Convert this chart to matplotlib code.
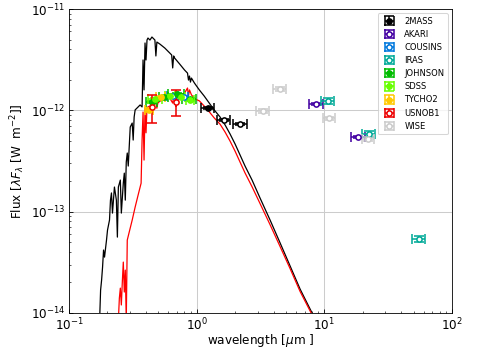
import numpy as np
import matplotlib
matplotlib.use("Agg")
import matplotlib.pyplot as plt

# model spectrum (black), wavelength [um] and lambda*F_lambda [W m-2]
model_wave = [0.1737, 0.1768, 0.1800, 0.1832, 0.1865, 0.1898, 0.1967, 0.2003,
              0.2076, 0.2113, 0.2151, 0.2190, 0.2269, 0.2350, 0.2393, 0.2436,
              0.2524, 0.2570, 0.2663, 0.2711, 0.2760, 0.2809, 0.2860, 0.2911,
              0.3017, 0.3126, 0.3182, 0.3238, 0.3297, 0.3479, 0.3606, 0.3736,
              0.3802, 0.3871, 0.3940, 0.4011, 0.4083, 0.4156, 0.4306, 0.4463,
              0.4708, 0.4793, 0.4879, 0.5146, 0.5627, 0.6152, 0.637, 0.6490,
              0.6603, 0.6721, 0.7349, 0.8035, 0.8478, 0.8627, 0.8785, 0.8939,
              0.9103, 0.9602, 1.0493, 1.1472, 1.2542, 1.3713, 1.525, 1.671,
              1.828, 2.000, 2.188, 2.393, 2.716, 3.139, 3.760, 4.508,
              5.400, 6.460, 8.017, 11.09]
model_flux = [8.5e-15, 1.68e-14, 2.11e-14, 2.84e-14, 4.18e-14, 3.56e-14, 5.24e-14, 6.58e-14,
              8.26e-14, 1.30e-13, 1.53e-13, 9.68e-14, 1.75e-13, 1.30e-13, 5.61e-14, 1.75e-13,
              2.05e-13, 9.68e-14, 1.91e-13, 2.40e-13, 1.30e-13, 3.09e-13, 3.79e-13, 2.82e-13,
              6.84e-13, 7.49e-13, 5.09e-13, 8.59e-13, 1.01e-12, 1.08e-12, 1.13e-12, 1.08e-12,
              3.14e-12, 1.59e-12, 4.62e-12, 3.14e-12, 4.94e-12, 5.17e-12, 4.94e-12, 5.29e-12,
              4.94e-12, 3.44e-12, 4.72e-12, 4.51e-12, 4.12e-12, 3.68e-12, 3.52e-12, 2.62e-12,
              3.44e-12, 3.28e-12, 2.87e-12, 2.50e-12, 2.33e-12, 1.99e-12, 2.18e-12, 1.90e-12,
              2.08e-12, 1.86e-12, 1.59e-12, 1.38e-12, 1.18e-12, 1.01e-12, 8.59e-13, 7.16e-13,
              5.83e-13, 4.65e-13, 3.62e-13, 2.82e-13, 2.05e-13, 1.36e-13, 8.26e-14, 4.90e-14,
              2.90e-14, 1.72e-14, 1.00e-14, 3.84e-15]

# reddened model (red)
red_wave = [0.2436, 0.2480, 0.2524, 0.2570, 0.2616, 0.2663, 0.2711, 0.2760,
            0.2809, 0.2860, 0.2963, 0.3126, 0.3297, 0.3479, 0.3671, 0.3736,
            0.3802, 0.3871, 0.3940, 0.4011, 0.4083, 0.4156, 0.4463, 0.4793,
            0.4879, 0.4966, 0.5146, 0.5627, 0.6152, 0.6490, 0.6603, 0.7349,
            0.8035, 0.8478, 0.8627, 0.8785, 0.9103, 0.9770, 1.0493, 1.1472,
            1.2542, 1.3713, 1.525, 1.671, 1.828, 2.000, 2.188, 2.393,
            2.716, 3.139, 3.760, 4.508, 5.400, 6.460, 8.017, 11.09]
red_flux = [8.5e-15, 1.40e-14, 1.76e-14, 1.20e-14, 2.02e-14, 3.18e-14, 1.61e-14, 2.65e-14,
            8.5e-15, 5.24e-14, 6.29e-14, 8.26e-14, 1.11e-13, 1.46e-13, 1.91e-13, 5.09e-13,
            9.62e-13, 3.23e-13, 1.05e-12, 6.0e-13, 1.07e-12, 1.08e-12, 1.13e-12, 1.18e-12,
            1.05e-12, 1.18e-12, 1.23e-12, 1.29e-12, 1.32e-12, 1.18e-12, 1.35e-12, 1.42e-12,
            1.48e-12, 1.66e-12, 1.38e-12, 1.59e-12, 1.42e-12, 1.29e-12, 1.24e-12, 1.10e-12,
            9.68e-13, 8.43e-13, 7.30e-13, 6.09e-13, 4.96e-13, 3.95e-13, 3.08e-13, 2.41e-13,
            1.76e-13, 1.20e-13, 7.43e-14, 4.51e-14, 2.73e-14, 1.63e-14, 9.6e-15, 3.72e-15]

# photometry: wavelength [um], flux [W m-2], wavelength half-width, flux error
mass_wave = [1.23, 1.64, 2.19]
mass_flux = [1.05e-12, 8.02e-13, 7.32e-13]
mass_xerr = [0.14, 0.20, 0.27]
mass_yerr = [2e-14, 2e-14, 2e-14]

akari_wave = [8.63, 18.4]
akari_flux = [1.15e-12, 5.45e-13]
akari_xerr = [1.1, 2.3]
akari_yerr = [2e-14, 1e-14]

cousins_wave = [0.65, 0.79]
cousins_flux = [1.38e-12, 1.34e-12]
cousins_xerr = [0.06, 0.07]
cousins_yerr = [4e-14, 4e-14]

iras_wave = [10.7, 22.4, 55.3]
iras_flux = [1.24e-12, 5.83e-13, 5.37e-14]
iras_xerr = [1.3, 2.7, 6.5]
iras_yerr = [8e-14, 4e-14, 4e-15]

johnson_wave = [0.445, 0.551, 0.70, 0.88]
johnson_flux = [1.22e-12, 1.36e-12, 1.46e-12, 1.30e-12]
johnson_xerr = [0.045, 0.045, 0.10, 0.11]
johnson_yerr = [3e-14, 3e-14, 3e-14, 3e-14]

sdss_wave = [0.475, 0.62, 0.75, 0.89]
sdss_flux = [1.30e-12, 1.38e-12, 1.36e-12, 1.26e-12]
sdss_xerr = [0.06, 0.06, 0.06, 0.07]
sdss_yerr = [3e-14, 3e-14, 3e-14, 3e-14]

tycho_wave = [0.423, 0.524]
tycho_flux = [1.01e-12, 1.35e-12]
tycho_xerr = [0.03, 0.04]
tycho_yerr = [5e-14, 4e-14]

usno_wave = [0.447, 0.684]
usno_flux = [1.08e-12, 1.21e-12]
usno_xerr = [0.0, 0.0]
usno_yerr = [[3.3e-13, 3.5e-13], [3.4e-13, 3.8e-13]]

wise_wave = [3.31, 4.50, 10.9, 22.0]
wise_flux = [9.84e-13, 1.62e-12, 8.39e-13, 5.21e-13]
wise_xerr = [0.4, 0.55, 1.2, 2.4]
wise_yerr = [5e-14, 8e-14, 3e-14, 2e-14]

colors = plt.cm.nipy_spectral(np.linspace(0, 1, 9))

catalogs = [
    ("2MASS", mass_wave[:1], mass_flux[:1], mass_xerr[:1], mass_yerr[:1], True),
    ("AKARI", akari_wave, akari_flux, akari_xerr, akari_yerr, False),
    ("COUSINS", cousins_wave, cousins_flux, cousins_xerr, cousins_yerr, False),
    ("IRAS", iras_wave, iras_flux, iras_xerr, iras_yerr, False),
    ("JOHNSON", johnson_wave, johnson_flux, johnson_xerr, johnson_yerr, True),
    ("SDSS", sdss_wave, sdss_flux, sdss_xerr, sdss_yerr, True),
    ("TYCHO2", tycho_wave, tycho_flux, tycho_xerr, tycho_yerr, True),
    ("USNOB1", usno_wave, usno_flux, usno_xerr, usno_yerr, False),
    ("WISE", wise_wave, wise_flux, wise_xerr, wise_yerr, False),
]

plt.rcParams["font.size"] = 11.5

fig = plt.figure(figsize=(6.4, 352 / 75), dpi=75)
ax = fig.add_axes([69 / 480, 1 - 313 / 352, 383 / 480, 304 / 352])

ax.plot(model_wave, model_flux, color="black", lw=1.2, zorder=2)
ax.plot(red_wave, red_flux, color="red", lw=1.2, zorder=2.1)

for i, (name, w, f, xe, ye, filled) in enumerate(catalogs):
    c = colors[i]
    yerr = np.array(ye).T if np.ndim(ye) == 2 else ye
    ax.errorbar(w, f, xerr=xe, yerr=yerr, fmt="o", color=c, ms=5,
                mfc=c if filled else "white", mec=c, mew=1.5,
                elinewidth=1.5, capsize=5, capthick=1.5, label=name, zorder=3)
# 2MASS H and K
ax.errorbar(mass_wave[1:], mass_flux[1:], xerr=mass_xerr[1:], yerr=mass_yerr[1:],
            fmt="o", color=colors[0], ms=5, mfc="white", mec=colors[0], mew=1.5,
            elinewidth=1.5, capsize=5, capthick=1.5, zorder=3)

ax.set_xscale("log")
ax.set_yscale("log")
ax.set_xlim(0.1, 100)
ax.set_ylim(1e-14, 1e-11)
ax.grid(which="major", color="0.8", lw=1)
ax.tick_params(which="both", direction="in")
ax.set_xlabel(r"wavelength [$\mu$m ]", labelpad=-1)
ax.set_ylabel(r"Flux [$\lambda F_\lambda$ [W  m$^{-2}$]]")
ax.legend(loc="upper right", fontsize=8)

fig.savefig("out.png", dpi=75)
